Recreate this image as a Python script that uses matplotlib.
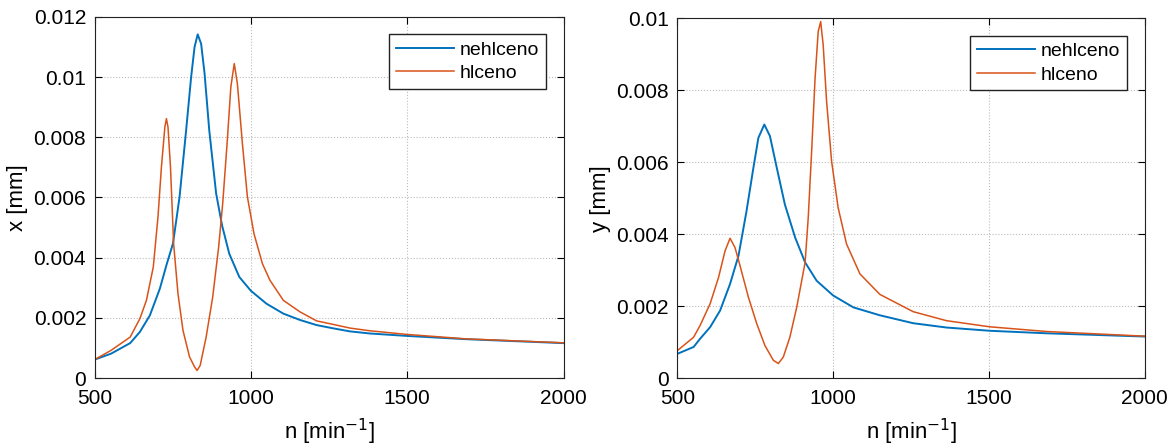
import numpy as np
import matplotlib
matplotlib.use("Agg")
import matplotlib.pyplot as plt

plt.rcParams['font.family'] = ['Liberation Sans', 'DejaVu Sans']

# x-direction (left panel)
n_x_blue = [500, 553, 614, 645, 677, 709, 730, 751, 772, 793, 809, 820, 830, 841,
            852, 867, 889, 908, 931, 963, 1000, 1050, 1104, 1157, 1210, 1264,
            1317, 1381, 1498, 1690, 2000]
x_blue = [0.00061, 0.00081, 0.00116, 0.00153, 0.00208, 0.00297, 0.00375, 0.00447,
          0.00602, 0.00823, 0.0100, 0.0110, 0.01142, 0.01111, 0.01012, 0.00823,
          0.00613, 0.00507, 0.00413, 0.00336, 0.00290, 0.00247, 0.00214, 0.00193,
          0.00176, 0.00165, 0.00155, 0.00148, 0.00140, 0.00129, 0.00116]

n_x_orange = [500, 553, 614, 645, 666, 688, 703, 714, 725, 730, 735, 743, 753, 767,
              783, 804, 820, 828, 838, 857, 878, 897, 910, 924, 936, 947, 957, 973,
              989, 1010, 1037, 1061, 1104, 1157, 1210, 1264, 1317, 1381, 1498, 1690,
              2000]
x_orange = [0.00061, 0.00092, 0.00136, 0.00197, 0.00258, 0.00369, 0.00535, 0.00701,
            0.00834, 0.00862, 0.00834, 0.00701, 0.00447, 0.0028, 0.00158, 0.0007,
            0.00037, 0.00025, 0.00042, 0.00136, 0.00269, 0.00435, 0.0058, 0.00779,
            0.00967, 0.01045, 0.00978, 0.00779, 0.00602, 0.0048, 0.0038, 0.00325,
            0.00258, 0.00220, 0.00190, 0.00178, 0.00166, 0.00157, 0.00145, 0.0013,
            0.00117]

# y-direction (right panel)
n_y_blue = [500, 552, 573, 605, 637, 669, 696, 722, 744, 760, 779, 797, 819, 845,
            878, 910, 947, 1000, 1065, 1150, 1257, 1364, 1503, 1685, 2000]
y_blue = [0.00068, 0.00087, 0.0011, 0.00142, 0.00188, 0.00262, 0.0034, 0.00465,
          0.00585, 0.00668, 0.00705, 0.00673, 0.00585, 0.00483, 0.00391, 0.00322,
          0.00271, 0.0023, 0.00197, 0.00175, 0.00153, 0.00141, 0.00132, 0.00125,
          0.00116]

n_y_orange = [500, 552, 573, 605, 632, 653, 669, 685, 701, 728, 755, 781, 808, 824,
              840, 861, 883, 899, 910, 920, 931, 942, 952, 960, 968, 979, 995, 1016,
              1043, 1086, 1150, 1257, 1364, 1503, 1685, 2000]
y_orange = [0.00077, 0.00114, 0.00147, 0.00207, 0.0028, 0.00354, 0.00389, 0.00363,
            0.00313, 0.00225, 0.00151, 0.00091, 0.0005, 0.00041, 0.00059, 0.00114,
            0.00197, 0.00271, 0.00322, 0.00446, 0.00631, 0.00834, 0.00963, 0.00991,
            0.00926, 0.00769, 0.00603, 0.00474, 0.00373, 0.0029, 0.00233, 0.00185,
            0.0016, 0.00143, 0.0013, 0.00117]

blue = '#0072BD'
orange = '#D95319'

fig = plt.figure(figsize=(11.74, 4.48), dpi=100)
ax1 = fig.add_axes([0.0805, 0.1562, 0.3995, 0.806])
ax2 = fig.add_axes([0.577, 0.1556, 0.398, 0.8035])

panels = [
    (ax1, n_x_blue, x_blue, n_x_orange, x_orange, 0.012, np.arange(0, 0.0121, 0.002),
     ['0', '0.002', '0.004', '0.006', '0.008', '0.01', '0.012'], 'x [mm]'),
    (ax2, n_y_blue, y_blue, n_y_orange, y_orange, 0.01, np.arange(0, 0.0101, 0.002),
     ['0', '0.002', '0.004', '0.006', '0.008', '0.01'], 'y [mm]'),
]

for ax, nb, vb, no, vo, ymax, yt, ytl, ylab in panels:
    ax.plot(nb, vb, color=blue, lw=1.4, label='nehlceno')
    ax.plot(no, vo, color=orange, lw=1.1, label='hlceno')
    ax.set_xlim(500, 2000)
    ax.set_ylim(0, ymax)
    ax.set_xticks([500, 1000, 1500, 2000])
    ax.set_yticks(yt)
    ax.set_yticklabels(ytl)
    ax.tick_params(direction='in', top=True, right=True, labelsize=15, length=5)
    ax.tick_params(axis='x', pad=8)
    ax.tick_params(axis='y', pad=6)
    ax.grid(True, color='#bbbbbb', linestyle=':', lw=0.8)
    ax.set_xlabel('n [min$^{-1}$]', fontsize=16, labelpad=6)
    ax.set_ylabel(ylab, fontsize=16, labelpad=4)
    for s in ax.spines.values():
        s.set_color('#222222')
    leg = ax.legend(loc='upper right', fontsize=14, handlelength=3.0,
                    handletextpad=0.3, fancybox=False, edgecolor='#222222',
                    framealpha=1, borderaxespad=0.9, borderpad=0.35,
                    labelspacing=0.3)
    leg.get_frame().set_linewidth(1.0)

fig.savefig('out.png', dpi=100)
